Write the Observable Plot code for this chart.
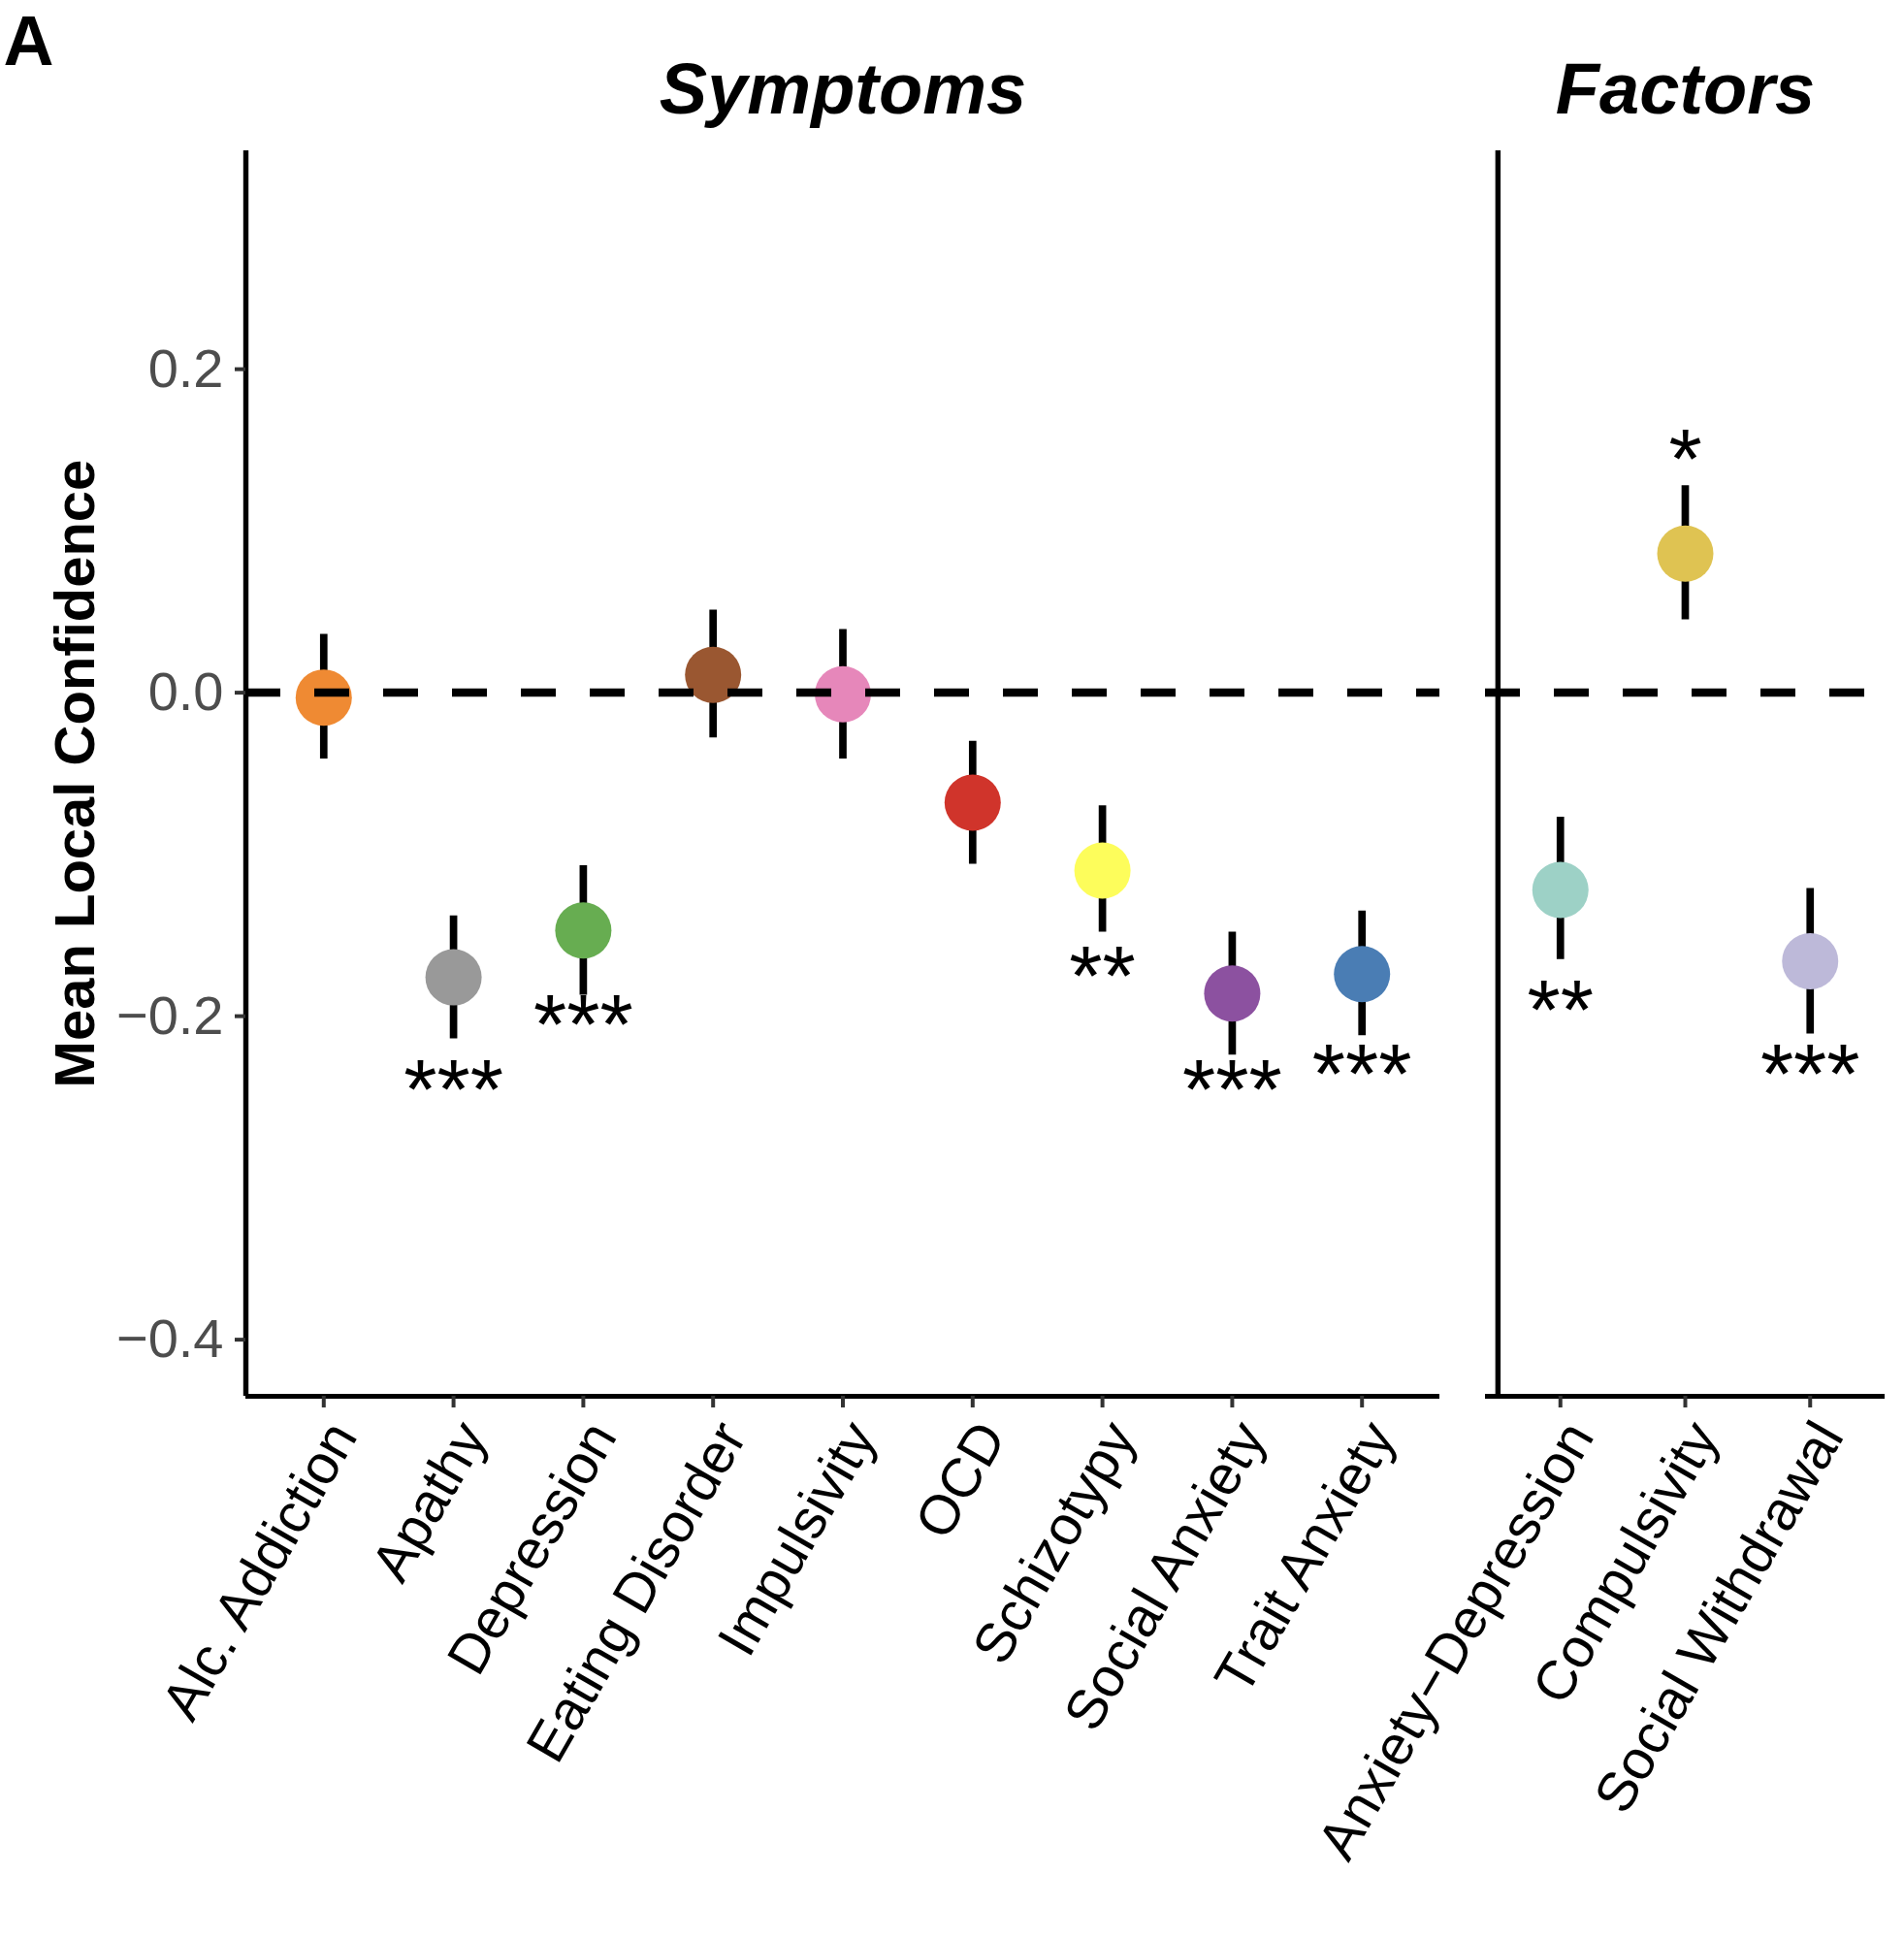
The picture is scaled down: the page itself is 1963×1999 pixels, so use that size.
<!DOCTYPE html>
<html><head><meta charset="utf-8">
<script src="https://cdn.jsdelivr.net/npm/d3@7"></script>
<script src="https://cdn.jsdelivr.net/npm/@observablehq/plot@0.6"></script>
<style>
body{margin:0;background:#fff;}
#chart{display:flex;width:1963px;height:1999px;background:#fff;}
#chart svg{font-family:"Liberation Sans",Arial,Helvetica,sans-serif;background:#fff;}
</style></head><body><div id="chart"></div>
<script>
// ---- data ----
const symptoms = ["Alc. Addiction","Apathy","Depression","Eating Disorder","Impulsivity","OCD","Schizotypy","Social Anxiety","Trait Anxiety"];
const symptomMean = [-0.003, -0.176, -0.147, 0.011, -0.001, -0.068, -0.110, -0.186, -0.174];
const symptomLow  = [-0.041, -0.214, -0.187, -0.028, -0.041, -0.106, -0.148, -0.224, -0.212];
const symptomHigh = [0.036, -0.138, -0.107, 0.051, 0.039, -0.030, -0.070, -0.148, -0.135];
const symptomSig  = ["", "***", "***", "", "", "", "**", "***", "***"];
const symptomSigY = [null, -0.237, -0.197, null, null, null, -0.167, -0.237, -0.2275];
const symptomColors = ["#EF8A33","#999999","#67AD51","#9A5731","#E687BA","#D0342B","#FDFD5B","#8C51A0","#4A7DB4"];

const factors = ["Anxiety\u2212Depression","Compulsivity","Social Withdrawal"];
const factorMean = [-0.122, 0.086, -0.166];
const factorLow  = [-0.165, 0.045, -0.211];
const factorHigh = [-0.077, 0.128, -0.121];
const factorSig  = ["**", "*", "***"];
const factorSigY = [-0.188, 0.153, -0.2275];
const factorColors = ["#9DD1C6","#DFC352","#BDB9D9"];

const yLimits = [-0.4, 0.3];
const yTicks = [-0.4, -0.2, 0.0, 0.2];
const yLabel = "Mean Local Confidence";
const panelTitles = ["Symptoms", "Factors"];
const panelTag = "A";

// ggplot-like expansion
const ySpan = yLimits[1] - yLimits[0];
const yDomain = [yLimits[0] - 0.05 * ySpan, yLimits[1] + 0.05 * ySpan];

const H = 1999, MT = 155, MB = 560;

function panel({names, mean, low, high, sig, sigY, colors, title, width, marginLeft, marginRight, left}) {
  const rows = names.map((name, i) => ({name, idx: i + 1, mean: mean[i], low: low[i], high: high[i], sig: sig[i], sigY: sigY[i]}));
  const n = names.length;
  const xDomain = [1 - 0.6, n + 0.6];
  const tickValues = d3.range(1, n + 1);
  const marks = [
    Plot.ruleY([yDomain[0]], {stroke: "black", strokeWidth: 5}),
    left ? Plot.ruleX([xDomain[0]], {stroke: "black", strokeWidth: 5.4})
         : Plot.ruleX([0.5], {stroke: "black", strokeWidth: 5.4}),
    Plot.ruleX(rows, {x: "idx", y1: "low", y2: "high", stroke: "black", strokeWidth: 7.7}),
    Plot.dot(rows, {x: "idx", y: "mean", r: 29, fill: "name", stroke: null}),
    Plot.ruleY([0], {stroke: "black", strokeWidth: 8.5, strokeDasharray: "36 35"}),
    Plot.text(rows.filter(d => d.sig), {x: "idx", y: "sigY", text: "sig", fontSize: 88, dy: 15.6, fill: "black"}),
    // tick marks
    Plot.axisX({ticks: tickValues, tickFormat: () => "", tickSize: 12, stroke: "#333", strokeWidth: 4, label: null}),
    // rotated tick labels
    Plot.axisX({ticks: tickValues, tickFormat: i => names[i - 1], tickRotate: -60, tickSize: 0, tickPadding: 32, dx: 20,
      fontSize: 57, fill: "black", label: null}),
    Plot.text([title], {text: d => d, frameAnchor: "top", dy: -91.5, fontSize: 74, fontWeight: "bold", fontStyle: "italic", fill: "black"})
  ];
  if (left) {
    marks.push(
      Plot.axisY({ticks: yTicks, tickFormat: d3.format(".1f"), tickSize: 11, tickPadding: 12, fontSize: 56,
        fill: "#4D4D4D", stroke: "#333", strokeWidth: 4, label: null}),
      Plot.text([yLabel], {text: d => d, frameAnchor: "left", textAnchor: "middle", rotate: -90, dx: -174.6, fontSize: 58, fontWeight: "bold", fill: "black"}),
      Plot.text([panelTag], {text: d => d, frameAnchor: "top-left", textAnchor: "start", dx: -250, dy: -140.1, fontSize: 72, fontWeight: "bold", fill: "black"})
    );
  }
  return Plot.plot({
    width, height: H, marginLeft, marginRight, marginTop: MT, marginBottom: MB,
    x: {type: "linear", domain: xDomain, axis: null},
    y: {domain: yDomain, axis: null},
    color: {domain: names, range: colors},
    style: {fontFamily: "Liberation Sans, Arial, sans-serif", background: "white", overflow: "visible"},
    marks
  });
}

const chart = document.getElementById("chart");
chart.append(panel({names: symptoms, mean: symptomMean, low: symptomLow, high: symptomHigh, sig: symptomSig, sigY: symptomSigY,
  colors: symptomColors, title: panelTitles[0], width: 1484, marginLeft: 253, marginRight: 0, left: true}));
chart.append(panel({names: factors, mean: factorMean, low: factorLow, high: factorHigh, sig: factorSig, sigY: factorSigY,
  colors: factorColors, title: panelTitles[1], width: 479, marginLeft: 47, marginRight: 20, left: false}));
</script></body></html>
